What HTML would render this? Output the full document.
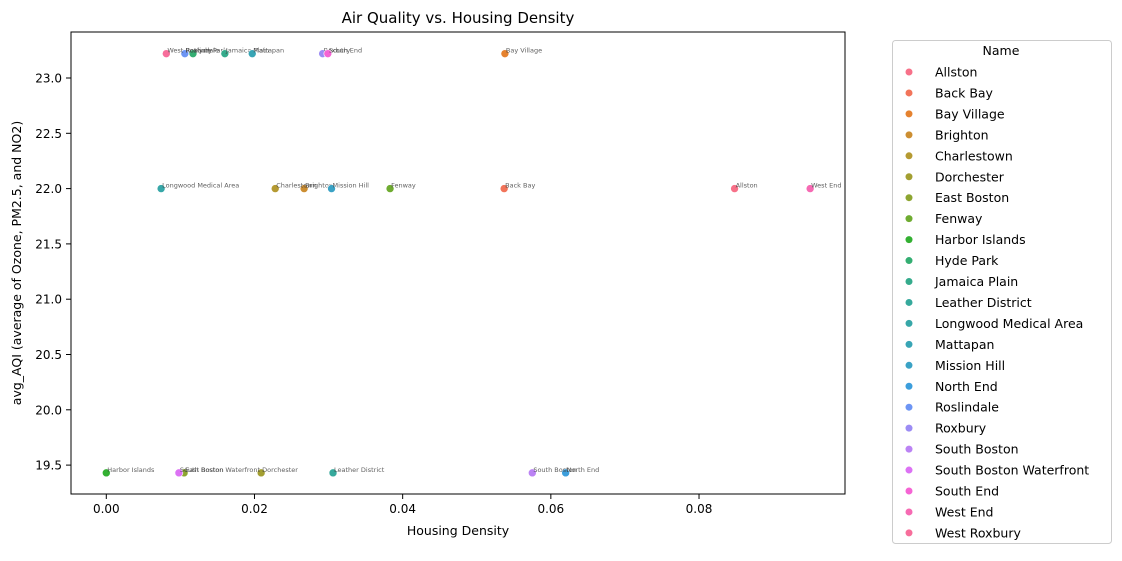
<!DOCTYPE html>
<html><head><meta charset="utf-8"><style>
body{margin:0;background:#fff;font-family:"Liberation Sans","DejaVu Sans",sans-serif;}
svg text{font-family:"DejaVu Sans","Liberation Sans",sans-serif;}
</style></head><body>
<svg id="chart" width="1122" height="556">
<rect x="0" y="0" width="1122" height="556" fill="#fff"/>
<text x="458" y="23" font-size="15" text-anchor="middle">Air Quality vs. Housing Density</text>
<g id="axes"></g>
<g id="points"></g>
<text x="458" y="535" font-size="12.5" text-anchor="middle">Housing Density</text>
<text transform="translate(21,263) rotate(-90)" font-size="12.5" text-anchor="middle">avg_AQI (average of Ozone, PM2.5, and NO2)</text>
<rect x="71" y="32" width="774" height="462" fill="none" stroke="#000" stroke-width="1"/>
<g id="legend">
<rect x="892.5" y="40.5" width="219" height="503" rx="3" fill="#fff" stroke="#ccc"/>
<text x="1001" y="55" font-size="12.5" text-anchor="middle">Name</text>
</g>
</svg>
<script>
const names=["Allston","Back Bay","Bay Village","Brighton","Charlestown","Dorchester","East Boston","Fenway","Harbor Islands","Hyde Park","Jamaica Plain","Leather District","Longwood Medical Area","Mattapan","Mission Hill","North End","Roslindale","Roxbury","South Boston","South Boston Waterfront","South End","West End","West Roxbury"];
const density=[0.0848,0.0537,0.0538,0.0267,0.0228,0.0209,0.0105,0.0383,0.0,0.0117,0.016,0.0306,0.0074,0.0197,0.0304,0.062,0.0106,0.0292,0.0575,0.0098,0.0299,0.095,0.0081];
const aqi=[22.0,22.0,23.22,22.0,22.0,19.43,19.43,22.0,19.43,23.22,23.22,19.43,22.0,23.22,22.0,19.43,23.22,23.22,19.43,19.43,23.22,22.0,23.22];
const colors=["#f77189","#f2745a","#e5822f","#cc8e32","#b59a32","#a39f31","#8da531","#6fac31","#33b032","#34ae72","#35ab8c","#36a99c","#37a7a8","#38a5b5","#3aa2c5","#3c9edc","#6d95f4","#9c8cf4","#bb83f4","#dc72f4","#f564d4","#f66ab3","#f76e9b"];
const xTicks=[0,0.02,0.04,0.06,0.08];
const xTickLabels=["0.00","0.02","0.04","0.06","0.08"];
const yTicks=[19.5,20,20.5,21,21.5,22,22.5,23];
const yTickLabels=["19.5","20.0","20.5","21.0","21.5","22.0","22.5","23.0"];
const NS="http://www.w3.org/2000/svg";
const X=v=>106.3+v*7409;
const Y=v=>78+(23-v)*110.6;
function mk(t,a,p){const e=document.createElementNS(NS,t);for(const k in a)e.setAttribute(k,a[k]);p.appendChild(e);return e;}
const ax=document.getElementById('axes');
xTicks.forEach((t,i)=>{
 const l=mk('line',{x1:X(t),x2:X(t),y1:494,y2:499,stroke:'#000'},ax);
 
 
 const tx=mk('text',{x:X(t),y:513,'font-size':'12','text-anchor':'middle'},ax);
 tx.textContent=xTickLabels[i];
 
 
});
yTicks.forEach((t,i)=>{
 const l=mk('line',{x1:66,x2:71,y1:Y(t),y2:Y(t),stroke:'#000'},ax);
 
 
 const tx=mk('text',{x:62,y:Y(t)+4.5,'font-size':'12','text-anchor':'end'},ax);
 tx.textContent=yTickLabels[i];
 
 
});
const pg=document.getElementById('points');
names.forEach((n,i)=>{
 const c=mk('circle',{cx:X(density[i]),cy:Y(aqi[i]),r:4,fill:colors[i],stroke:'#fff','stroke-width':0.6},pg);
 
 
 const t=mk('text',{x:X(density[i])+1,y:Y(aqi[i])-1,'font-size':'6.5',fill:'#444','fill-opacity':0.85},pg);
 t.textContent=n;
 
 
});
const lg=document.getElementById('legend');
names.forEach((n,i)=>{
 const y=72+i*20.95;
 const c=mk('circle',{cx:909,cy:y,r:3.5,fill:colors[i]},lg);
 
 
 const t=mk('text',{x:935,y:y+4.5,'font-size':'12.5'},lg);
 t.textContent=n;
 
 
});
</script>
</body></html>
